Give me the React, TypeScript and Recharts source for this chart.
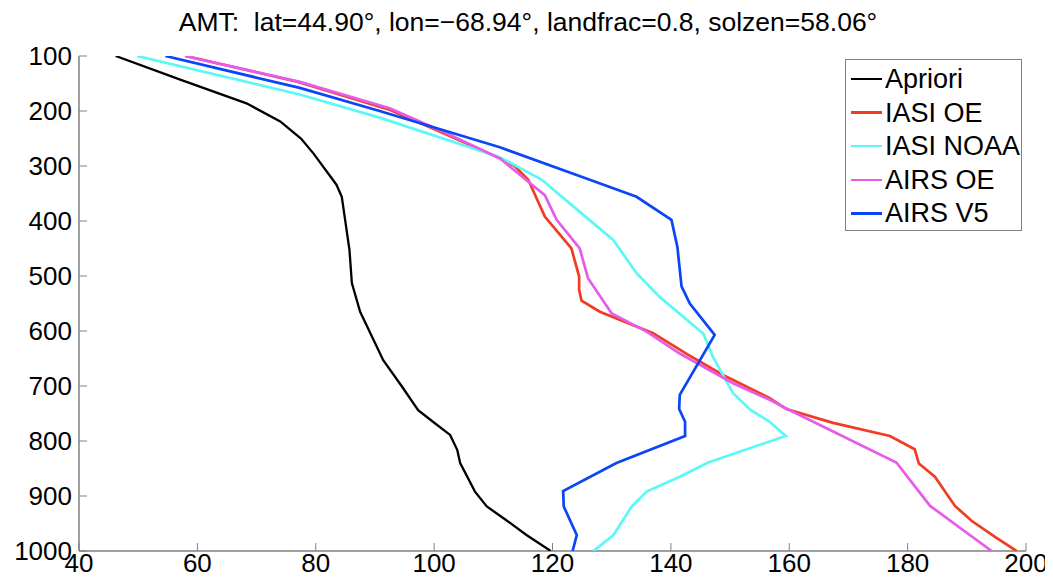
import React from "react";
import { ScatterChart, Scatter, XAxis, YAxis } from "recharts";

const title = "AMT:  lat=44.90°, lon=\u221268.94°, landfrac=0.8, solzen=58.06°";

const xTicks = [40, 60, 80, 100, 120, 140, 160, 180, 200];
const yTicks = [100, 200, 300, 400, 500, 600, 700, 800, 900, 1000];

const seriesNames = ["Apriori", "IASI OE", "IASI NOAA", "AIRS OE", "AIRS V5"];
const seriesColors = ["#000000", "#f23c22", "#5cf7f7", "#e65ce8", "#0a46f5"];
const seriesWidths = [2.3, 2.7, 2.7, 2.7, 2.7];

const aprioriP = [100, 143, 186, 219, 250, 277, 334, 356, 453, 513, 565, 653, 700, 744, 765, 789, 816, 840, 892, 919, 944, 971, 1000];
const aprioriV = [46.2, 57.1, 68.3, 74, 77.5, 79.6, 83.5, 84.4, 85.7, 86.1, 87.5, 91.4, 94.5, 97.3, 99.8, 102.7, 103.9, 104.4, 106.9, 108.9, 112.2, 115.6, 119.7];

const iasiOeP = [100, 147, 197, 240, 286, 300, 325, 392, 450, 501, 525, 545, 565, 604, 641, 680, 722, 742, 767, 791, 815, 841, 865, 918, 945, 974, 1000];
const iasiOeV = [58, 77, 92.3, 101.5, 111.1, 113.6, 115.9, 118.7, 123.2, 124.5, 124.5, 124.9, 128, 137, 142.6, 148.8, 156.7, 159.5, 167.4, 177, 181.2, 181.9, 184.6, 188, 190.8, 194.7, 198.4];

const iasiNoaaP = [100, 170, 212, 284, 325, 368, 435, 495, 538, 605, 647, 713, 744, 765, 791, 839, 865, 892, 919, 971, 1000];
const iasiNoaaV = [49.8, 77.3, 90.8, 111.1, 118.2, 122.9, 130.3, 134.2, 138.1, 145.5, 147.1, 150.5, 153.5, 156.7, 159.4, 146.3, 141.5, 135.9, 133.4, 130.3, 126.9];

const airsOeP = [100, 147, 195, 240, 286, 325, 353, 398, 450, 504, 568, 601, 641, 695, 725, 744, 839, 918, 1000];
const airsOeV = [57.9, 77.3, 92.5, 102, 111.1, 115.5, 118.7, 120.7, 124.6, 126, 130, 135.9, 141.5, 150.5, 156.7, 160.1, 178.1, 183.8, 194.2];

const airsV5P = [100, 158, 200, 266, 325, 356, 398, 447, 519, 550, 607, 716, 742, 765, 791, 840, 891, 919, 971, 1000];
const airsV5V = [54.6, 77.3, 90.8, 111.1, 126.3, 134.2, 140.1, 141.1, 141.8, 143.2, 147.4, 141.5, 141.4, 142.4, 142.4, 130.8, 121.8, 121.9, 124.1, 123.4];

const seriesP = [aprioriP, iasiOeP, iasiNoaaP, airsOeP, airsV5P];
const seriesV = [aprioriV, iasiOeV, iasiNoaaV, airsOeV, airsV5V];

const FONT = "'Liberation Sans', Arial, Helvetica, sans-serif";
const AXIS = "#808080";
const TICK_LEN = 8;

const BottomTick = (props: any) => {
  const { x, y, payload } = props;
  return (
    <g>
      <line x1={x} x2={x} y1={y} y2={y - TICK_LEN} stroke={AXIS} strokeWidth={1} />
      <text x={x} y={y + 21} textAnchor="middle" fontFamily={FONT} fontSize={26} fill="#000">
        {payload.value}
      </text>
    </g>
  );
};

const TopTick = (props: any) => {
  const { x, y } = props;
  return <line x1={x} x2={x} y1={y} y2={y + TICK_LEN} stroke={AXIS} strokeWidth={1} />;
};

const LeftTick = (props: any) => {
  const { x, y, payload } = props;
  return (
    <g>
      <line x1={x} x2={x + TICK_LEN} y1={y} y2={y} stroke={AXIS} strokeWidth={1} />
      <text x={x - 7} y={y + 9} textAnchor="end" fontFamily={FONT} fontSize={26} fill="#000">
        {payload.value}
      </text>
    </g>
  );
};

const RightTick = (props: any) => {
  const { x, y } = props;
  return <line x1={x} x2={x - TICK_LEN} y1={y} y2={y} stroke={AXIS} strokeWidth={1} />;
};

const NoShape = () => <g />;

export default function App() {
  const data = seriesNames.map((name, i) =>
    seriesP[i].map((p, j) => ({ p, v: seriesV[i][j] }))
  );
  return (
    <div style={{ position: "relative", width: 1045, height: 576, background: "#fff" }}>
      <div
        style={{
          position: "absolute",
          left: 0,
          width: 1040,
          top: 0,
          textAlign: "center",
          fontFamily: FONT,
          fontSize: 26.5,
          lineHeight: "28px",
          color: "#000",
          whiteSpace: "pre",
        }}
      >
        {title}
      </div>
      <ScatterChart width={1045} height={576} margin={{ top: 48, left: 11, right: 27, bottom: 3 }}>
        <XAxis
          xAxisId="bottom"
          dataKey="v"
          type="number"
          domain={[40, 200]}
          ticks={xTicks}
          allowDataOverflow
          height={30}
          tickSize={0}
          tickMargin={0}
          tickLine={false}
          axisLine={{ stroke: AXIS, strokeWidth: 1.5 }}
          tick={<BottomTick />}
          interval={0}
        />
        <XAxis
          xAxisId="top"
          orientation="top"
          dataKey="v"
          type="number"
          domain={[40, 200]}
          ticks={xTicks}
          allowDataOverflow
          height={0}
          tickSize={0}
          tickMargin={0}
          tickLine={false}
          axisLine={{ stroke: AXIS, strokeWidth: 1.5 }}
          tick={<TopTick />}
          interval={0}
        />
        <YAxis
          yAxisId="left"
          dataKey="p"
          type="number"
          domain={[100, 1000]}
          ticks={yTicks}
          reversed
          allowDataOverflow
          width={60}
          tickSize={0}
          tickMargin={0}
          tickLine={false}
          axisLine={{ stroke: AXIS, strokeWidth: 1.5 }}
          tick={<LeftTick />}
          interval={0}
        />
        <YAxis
          yAxisId="right"
          orientation="right"
          dataKey="p"
          type="number"
          domain={[100, 1000]}
          ticks={yTicks}
          reversed
          allowDataOverflow
          width={0}
          tickSize={0}
          tickMargin={0}
          tickLine={false}
          axisLine={{ stroke: AXIS, strokeWidth: 1.5 }}
          tick={<RightTick />}
          interval={0}
        />
        {seriesNames.map((name, i) => (
          <Scatter
            key={name}
            name={name}
            data={data[i]}
            xAxisId="bottom"
            yAxisId="left"
            fill={seriesColors[i]}
            line={{ stroke: seriesColors[i], strokeWidth: seriesWidths[i] }}
            lineType="joint"
            shape={<NoShape />}
            isAnimationActive={false}
          />
        ))}
      </ScatterChart>
      <div
        style={{
          position: "absolute",
          left: 837,
          top: 51,
          width: 177,
          height: 172,
          border: "1px solid #808080",
          background: "#fff",
          boxSizing: "border-box",
          fontFamily: FONT,
          fontSize: 27,
          color: "#000",
        }}
      >
        {seriesNames.map((name, i) => (
          <div
            key={name}
            style={{
              position: "absolute",
              left: 5,
              top: 4 + i * 33.6,
              height: 30,
              display: "flex",
              alignItems: "center",
              whiteSpace: "nowrap",
            }}
          >
            <div style={{ width: 31, height: 2.5, background: seriesColors[i], marginRight: 3 }} />
            <span style={{ lineHeight: "30px" }}>{name}</span>
          </div>
        ))}
      </div>
    </div>
  );
}
